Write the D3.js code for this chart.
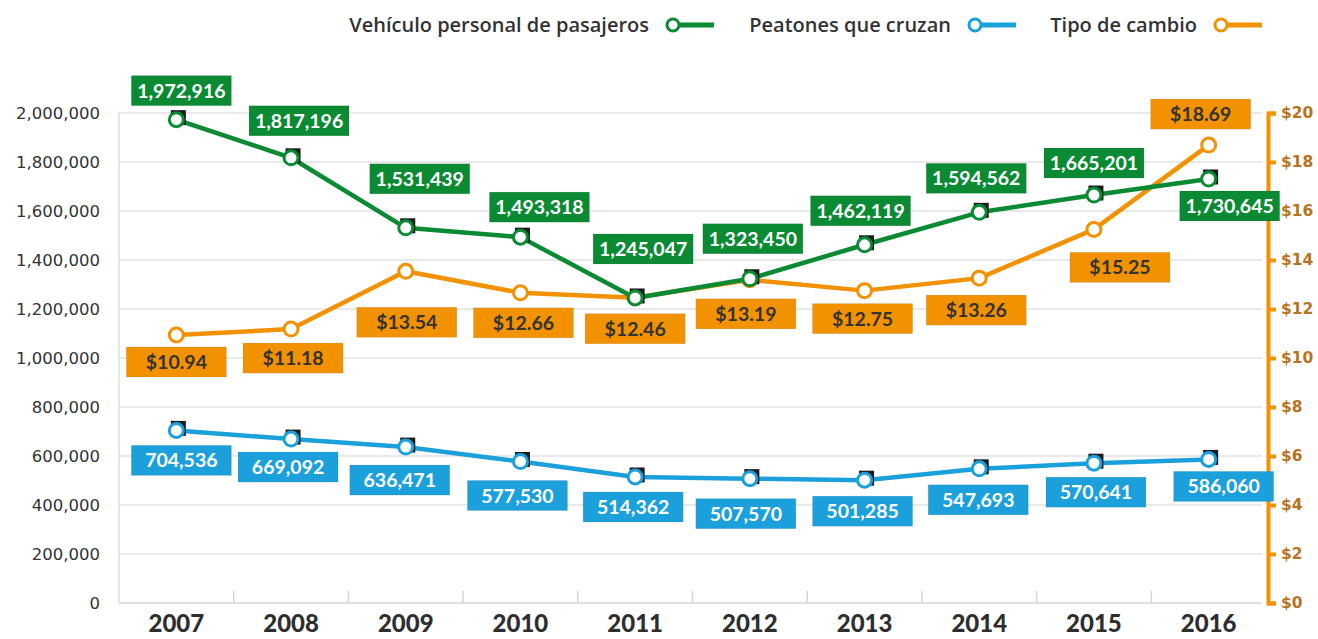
<!DOCTYPE html>
<html><head><meta charset="utf-8">
<script src="https://cdn.jsdelivr.net/npm/d3@7"></script>
<style>
html,body{margin:0;padding:0;background:#fff;}
svg{display:block;}
</style></head>
<body>
<svg id="chart" width="1318" height="639"></svg>
<script>
// ---- data ----
const years = ["2007","2008","2009","2010","2011","2012","2013","2014","2015","2016"];
const vehiculos = [1972916,1817196,1531439,1493318,1245047,1323450,1462119,1594562,1665201,1730645];
const peatones = [704536,669092,636471,577530,514362,507570,501285,547693,570641,586060];
const tipoCambio = [10.94,11.18,13.54,12.66,12.46,13.19,12.75,13.26,15.25,18.69];
const leftTicks = [0,200000,400000,600000,800000,1000000,1200000,1400000,1600000,1800000,2000000];
const rightTicks = [0,2,4,6,8,10,12,14,16,18,20];
const seriesNames = ["Vehículo personal de pasajeros","Peatones que cruzan","Tipo de cambio"];

// ---- layout (label box offsets from points, px) ----
const offVeh = [[5,-29],[8,-37],[14,-49],[19,-30],[8,-49],[3,-40],[-4,-34],[-3,-34],[0,-32],[21,27]];
const offPea = [[5,30],[-3,28],[-6,33],[-3,34],[-2,30],[-4,35],[-2,31],[-1,31],[2,29],[15,27]];
const offTip = [[0,27],[2,29],[1,51],[3,30],[0,31],[-4,34],[-2,28],[-3,32],[26,38],[-8,-31]];

const GREEN = "#0b8a34", BLUE = "#1ba0dc", ORANGE = "#f39200";

const svg = d3.select("#chart");
const L = 119, R = 1266, T = 113, B = 603;

const x = d3.scaleBand().domain(years).range([L, R]);
const cx = d => x(d) + x.bandwidth()/2;
const yL = d3.scaleLinear().domain([0, 2000000]).range([B, T]);
const yR = d3.scaleLinear().domain([0, 20]).range([B, T]);

// gridlines
svg.append("g").selectAll("line").data(leftTicks.slice(1)).join("line")
  .attr("x1", L).attr("x2", 1262).attr("y1", d => yL(d)).attr("y2", d => yL(d))
  .attr("stroke", "#e2e2e2").attr("stroke-width", 1.5);
// left frame + bottom
svg.append("line").attr("x1", L).attr("x2", L).attr("y1", T).attr("y2", B).attr("stroke", "#dcdcdc").attr("stroke-width", 1.5);
svg.append("line").attr("x1", L).attr("x2", 1262).attr("y1", B).attr("y2", B).attr("stroke", "#d6d6d6").attr("stroke-width", 1.5);
// inner category ticks
svg.append("g").selectAll("line").data(years.slice(1)).join("line")
  .attr("x1", d => x(d)).attr("x2", d => x(d)).attr("y1", B - 12).attr("y2", B)
  .attr("stroke", "#d6d6d6").attr("stroke-width", 1.5);

// left axis labels
const leftAxis = d3.axisLeft(yL).tickValues(leftTicks).tickSize(0).tickPadding(0)
  .tickFormat(d => d === 0 ? "0" : d3.format(",")(d));
const gL = svg.append("g").attr("transform", `translate(100,0)`).call(leftAxis);
gL.select(".domain").remove();
gL.selectAll("text").attr("font-family", "'DejaVu Sans', sans-serif").attr("font-size", 16.5)
  .attr("fill", "#333").attr("dy", "0.35em");

// right axis
const rightAxis = d3.axisRight(yR).tickValues(rightTicks).tickSize(8).tickPadding(5)
  .tickFormat(d => "$" + d);
const gR = svg.append("g").attr("transform", `translate(1268,0)`).call(rightAxis);
gR.select(".domain").attr("stroke", ORANGE).attr("stroke-width", 4);
gR.selectAll(".tick line").attr("stroke", ORANGE).attr("stroke-width", 4);
gR.selectAll("text").attr("font-family", "'DejaVu Sans', sans-serif").attr("font-weight", "bold")
  .attr("font-size", 15.5).attr("fill", "#b8731f");

// bottom axis labels
const bottomAxis = d3.axisBottom(x).tickSize(0).tickPadding(0);
const gB = svg.append("g").attr("transform", `translate(0,${B})`).call(bottomAxis);
gB.select(".domain").remove();
gB.selectAll("text").attr("font-family", "Lato, sans-serif").attr("font-weight", 900)
  .attr("font-size", 24).attr("fill", "#2e2e2e").attr("dy", "1.22em");

// series
const series = [
  {vals: tipoCambio, y: yR, color: ORANGE, off: offTip, fmt: d => "$" + d.toFixed(2), txt: "#333", sq: false},
  {vals: vehiculos, y: yL, color: GREEN, off: offVeh, fmt: d3.format(","), txt: "#fff", sq: true},
  {vals: peatones, y: yL, color: BLUE, off: offPea, fmt: d3.format(","), txt: "#fff", sq: true}
];

series.forEach(s => {
  const pts = years.map((yr, i) => ({yr, v: s.vals[i], i}));
  const line = d3.line().x(d => cx(d.yr)).y(d => s.y(d.v));
  svg.append("path").datum(pts).attr("d", line).attr("fill", "none")
    .attr("stroke", s.color).attr("stroke-width", 4.5).attr("stroke-linejoin", "round");
  s.pts = pts;
});
series.forEach(s => {
  if (s.sq) {
    svg.append("g").selectAll("rect").data(s.pts).join("rect")
      .attr("x", d => cx(d.yr) - 5.5).attr("y", d => s.y(d.v) - 9.5)
      .attr("width", 15).attr("height", 15).attr("fill", "#1b1b1b");
  }
  svg.append("g").selectAll("circle").data(s.pts).join("circle")
    .attr("cx", d => cx(d.yr)).attr("cy", d => s.y(d.v)).attr("r", 7)
    .attr("fill", "#fff").attr("stroke", s.color).attr("stroke-width", 3);
});
// labels
series.forEach(s => {
  const g = svg.append("g").selectAll("g").data(s.pts).join("g")
    .attr("transform", d => `translate(${cx(d.yr) + s.off[d.i][0]},${s.y(d.v) + s.off[d.i][1]})`);
  g.append("rect").attr("x", -50).attr("y", -15).attr("width", 100).attr("height", 30)
    .attr("fill", s.color).attr("stroke", "rgba(0,0,0,0.08)").attr("stroke-width", 1);
  g.append("text").text(d => s.fmt(d.v)).attr("text-anchor", "middle").attr("dy", "0.36em")
    .attr("font-family", "Lato, sans-serif").attr("font-weight", "bold").attr("font-size", 19.5)
    .attr("fill", s.txt);
});

// legend
const legColors = [GREEN, BLUE, ORANGE];
const legEnds = [649, 951, 1197];
const lg = svg.append("g").selectAll("g").data(seriesNames).join("g")
  .attr("transform", (d, i) => `translate(${legEnds[i]},25)`);
lg.append("text").text(d => d).attr("text-anchor", "end").attr("dy", "0.35em")
  .attr("font-family", "'Open Sans', sans-serif").attr("font-weight", 600).attr("font-size", 20)
  .attr("fill", "#333");
lg.append("line").attr("x1", 24).attr("x2", 65).attr("y1", 0).attr("y2", 0)
  .attr("stroke", (d, i) => legColors[i]).attr("stroke-width", 5);
lg.append("circle").attr("cx", 24).attr("cy", 0).attr("r", 6)
  .attr("fill", "#fff").attr("stroke", (d, i) => legColors[i]).attr("stroke-width", 3);
</script>
</body></html>
